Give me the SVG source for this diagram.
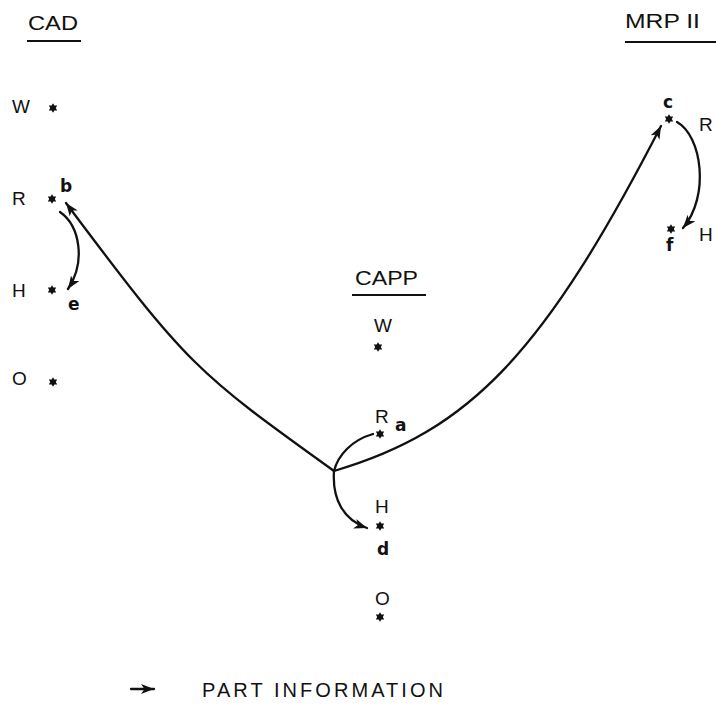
<svg xmlns="http://www.w3.org/2000/svg" xmlns:xlink="http://www.w3.org/1999/xlink" width="716" height="705" viewBox="0 0 716 705">
  <style>
    .title { font-family: "Liberation Sans", "DejaVu Sans", sans-serif; font-size: 20px; fill: #111; }
    .lvl { font-family: "Liberation Sans", "DejaVu Sans", sans-serif; font-size: 19px; fill: #111; }
    .tag { font-family: "DejaVu Sans", "Liberation Sans", sans-serif; font-size: 17px; font-weight: bold; fill: #111; }
    .rule { stroke: #111; stroke-width: 2; }
    .flow { fill: none; stroke: #111; stroke-width: 2.3; stroke-linecap: round; }
    .pt { fill: #111; }
  </style>
  <defs>
    <!-- six-point asterisk used for each data point -->
    <polygon id="star" class="pt" points="0,-4.8 1.4,-2.4 4.2,-2.4 2.8,0 4.2,2.4 1.4,2.4 0,4.8 -1.4,2.4 -4.2,2.4 -2.8,0 -4.2,-2.4 -1.4,-2.4"/>
    <marker id="head" markerUnits="userSpaceOnUse" markerWidth="14" markerHeight="12" refX="13" refY="5" orient="auto">
      <path d="M0,0 L13,5 L0,10 L3.5,5 Z" fill="#111"/>
    </marker>
  </defs>
  <rect width="716" height="705" fill="#fff"/>

  <!-- CAD column -->
  <g id="cad">
    <text class="title" x="28" y="30" textLength="50" lengthAdjust="spacingAndGlyphs">CAD</text>
    <line class="rule" x1="27" y1="41" x2="81" y2="41"/>
    <g id="cad-w"><text class="lvl" x="12" y="113">W</text><use xlink:href="#star" x="53" y="108"/></g>
    <g id="cad-r"><text class="lvl" x="12" y="205">R</text><use xlink:href="#star" x="52" y="199"/><text class="tag" x="60" y="192">b</text></g>
    <g id="cad-h"><text class="lvl" x="12" y="297">H</text><use xlink:href="#star" x="52" y="290"/><text class="tag" x="68" y="310">e</text></g>
    <g id="cad-o"><text class="lvl" x="12" y="385">O</text><use xlink:href="#star" x="53" y="382"/></g>
  </g>

  <!-- CAPP column -->
  <g id="capp">
    <text class="title" x="355" y="285" textLength="63" lengthAdjust="spacingAndGlyphs">CAPP</text>
    <line class="rule" x1="352" y1="295" x2="426" y2="295"/>
    <g id="capp-w"><text class="lvl" x="374" y="332">W</text><use xlink:href="#star" x="378" y="347"/></g>
    <g id="capp-r"><text class="lvl" x="375" y="423">R</text><use xlink:href="#star" x="380" y="434"/><text class="tag" x="395" y="431">a</text></g>
    <g id="capp-h"><text class="lvl" x="375" y="513">H</text><use xlink:href="#star" x="380" y="526"/><text class="tag" x="377" y="555">d</text></g>
    <g id="capp-o"><text class="lvl" x="375" y="605">O</text><use xlink:href="#star" x="380" y="617"/></g>
  </g>

  <!-- MRP II column -->
  <g id="mrp">
    <text class="title" x="625" y="28" textLength="75" lengthAdjust="spacingAndGlyphs">MRP II</text>
    <line class="rule" x1="625" y1="42" x2="716" y2="42"/>
    <g id="mrp-r"><use xlink:href="#star" x="669" y="119"/><text class="tag" x="663" y="108">c</text><text class="lvl" x="699" y="131">R</text></g>
    <g id="mrp-h"><use xlink:href="#star" x="671" y="229"/><text class="tag" x="666" y="251">f</text><text class="lvl" x="699" y="241">H</text></g>
  </g>

  <!-- part information flows -->
  <g id="connectors">
    <path class="flow" d="M373,434 C352,440 338,455 334,471"/>
    <path class="flow" d="M334,471 C196,372 188,366 66,203" marker-end="url(#head)"/>
    <path class="flow" d="M334,471 C471,431 545,351 661,126" marker-end="url(#head)"/>
    <path class="flow" d="M334,471 C332,500 344,520 367,528" marker-end="url(#head)"/>
    <path class="flow" d="M60,212 C80,226 86,262 68,289" marker-end="url(#head)"/>
    <path class="flow" d="M677,122 C702,136 710,196 683,228" marker-end="url(#head)"/>
  </g>

  <!-- legend -->
  <g id="legend">
    <path class="flow" d="M131,689 L154,689" marker-end="url(#head)"/>
    <text class="title" x="202" y="697" textLength="241" lengthAdjust="spacing">PART INFORMATION</text>
  </g>
</svg>
